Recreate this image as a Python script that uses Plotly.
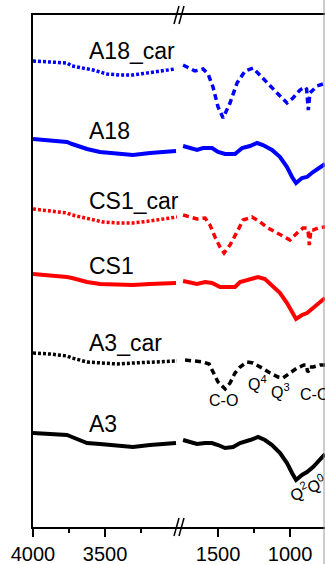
import plotly.graph_objects as go

# Wavenumbers (cm-1) and offset transmittance (a.u.)
a18car_wn = [4000, 3882, 3764, 3729, 3653, 3583, 3486, 3396, 3306, 3208, 3118, 3014,
             1743, 1694, 1660, 1604, 1569, 1535, 1500, 1465, 1417, 1368, 1312, 1257, 1222,
             1160, 1090, 1021, 979, 931, 896, 885, 873, 862, 847, 812, 771, 757]
a18car_t = [46.6, 46.5, 46.4, 46.1, 45.9, 45.7, 45.3, 45.2, 45.2, 45.4, 45.6, 45.8,
            46.2, 45.9, 45.6, 45.8, 45.3, 44.0, 42.0, 40.9, 42.4, 44.4, 45.6, 45.9, 45.4,
            44.4, 43.4, 42.4, 42.9, 43.7, 44.0, 43.8, 41.7, 43.4, 43.6, 44.1, 44.3, 44.3]

a18_wn = [4000, 3882, 3764, 3729, 3625, 3535, 3417, 3306, 3188, 3097, 3007,
          1743, 1694, 1646, 1604, 1542, 1500, 1451, 1382, 1333, 1278, 1229, 1188, 1125,
          1069, 1021, 986, 958, 917, 882, 840, 792, 764, 757]
a18_t = [38.8, 38.6, 38.5, 38.3, 37.8, 37.5, 37.3, 37.2, 37.4, 37.5, 37.6,
         38.1, 37.9, 37.7, 37.9, 37.9, 37.5, 37.3, 37.3, 37.9, 38.1, 38.4, 38.2, 37.7,
         37.0, 36.0, 35.0, 34.4, 34.9, 35.0, 35.5, 36.0, 36.2, 36.3]

cs1car_wn = [4000, 3882, 3764, 3729, 3625, 3514, 3417, 3306, 3188, 3069, 3000,
             1743, 1694, 1646, 1590, 1556, 1521, 1486, 1458, 1417, 1368, 1326, 1264, 1208,
             1153, 1090, 1035, 1000, 951, 910, 882, 874, 866, 855, 840, 806, 764, 757]
cs1car_t = [31.8, 31.6, 31.4, 31.2, 30.9, 30.5, 30.4, 30.4, 30.6, 30.9, 31.0,
            31.2, 31.0, 30.8, 30.9, 30.2, 29.0, 28.0, 27.4, 28.2, 29.5, 30.7, 31.0, 30.5,
            29.9, 29.4, 28.9, 28.7, 29.4, 29.9, 29.9, 29.5, 28.2, 29.7, 29.7, 29.9, 30.0, 30.0]

cs1_wn = [4000, 3882, 3764, 3729, 3625, 3535, 3417, 3306, 3188, 3007,
          1743, 1694, 1646, 1590, 1542, 1486, 1438, 1382, 1347, 1278, 1222, 1174, 1125,
          1069, 1021, 986, 958, 917, 882, 840, 792, 764, 757]
cs1_t = [25.3, 25.2, 25.0, 24.9, 24.5, 24.3, 24.2, 24.2, 24.3, 24.4,
         24.6, 24.4, 24.3, 24.5, 24.4, 24.0, 24.0, 24.0, 24.5, 24.8, 25.0, 24.8, 24.2,
         23.4, 22.4, 21.4, 20.8, 21.2, 21.4, 21.9, 22.5, 22.8, 22.9]

a3car_wn = [4000, 3882, 3764, 3729, 3625, 3514, 3417, 3306, 3188, 3069, 3000,
            1729, 1674, 1604, 1562, 1535, 1500, 1451, 1417, 1382, 1347, 1299, 1257, 1194,
            1139, 1083, 1049, 1000, 951, 903, 885, 878, 872, 865, 840, 792, 757]
a3car_t = [17.4, 17.3, 17.1, 16.9, 16.5, 16.4, 16.3, 16.4, 16.5, 16.6, 16.6,
           16.7, 16.6, 16.5, 16.3, 15.5, 14.5, 13.8, 14.4, 15.4, 16.0, 16.5, 16.4, 15.9,
           15.4, 15.0, 14.9, 15.4, 15.9, 16.2, 16.2, 15.5, 15.6, 16.0, 16.0, 16.2, 16.2]

a3_wn = [4000, 3882, 3764, 3729, 3625, 3535, 3417, 3306, 3188, 3007,
         1743, 1694, 1646, 1590, 1542, 1500, 1451, 1396, 1347, 1278, 1222, 1174, 1125,
         1069, 1021, 986, 958, 917, 882, 840, 792, 764, 757]
a3_t = [9.4, 9.3, 9.2, 9.0, 8.4, 8.3, 8.1, 8.0, 8.2, 8.4,
        8.7, 8.5, 8.3, 8.4, 8.4, 8.2, 7.9, 8.0, 8.4, 8.7, 9.0, 8.7, 8.2,
        7.4, 6.4, 5.4, 4.7, 5.2, 5.5, 6.0, 6.7, 7.2, 7.3]

series = [
    ("A18_car", a18car_wn, a18car_t, "#0000FF", True, 47.6),
    ("A18", a18_wn, a18_t, "#0000FF", False, 39.6),
    ("CS1_car", cs1car_wn, cs1car_t, "#FF0000", True, 32.6),
    ("CS1", cs1_wn, cs1_t, "#FF0000", False, 26.1),
    ("A3_car", a3car_wn, a3car_t, "#000000", True, 18.4),
    ("A3", a3_wn, a3_t, "#000000", False, 10.3),
]

left_range = [4000, 3000]
right_range = [1785, 757]
split = 0.4932

FONT = "Liberation Sans, Arial, sans-serif"

fig = go.Figure()
annotations = []
for name, wn, t, color, dotted, label_y in series:
    lx = [w for w in wn if w > 2000]
    ly = [v for w, v in zip(wn, t) if w > 2000]
    rx = [w for w in wn if w <= 2000]
    ry = [v for w, v in zip(wn, t) if w <= 2000]
    dash_l = "3px,2px" if dotted else "solid"
    dash_r = "6px,4px" if dotted else "solid"
    width = 3.5 if dotted else 4
    fig.add_trace(go.Scatter(x=lx, y=ly, mode="lines", xaxis="x", yaxis="y",
                             line=dict(color=color, width=width, dash=dash_l), showlegend=False))
    fig.add_trace(go.Scatter(x=rx, y=ry, mode="lines", xaxis="x2", yaxis="y",
                             line=dict(color=color, width=width, dash=dash_r), showlegend=False))
    annotations.append(dict(text=name, x=3625, y=label_y, xref="x", yref="y",
                            xanchor="left", yanchor="middle", showarrow=False,
                            font=dict(family=FONT, size=23, color="black")))

peak_labels = [
    ("C-O", 1465, 12.7, 0),
    ("Q<sup>4</sup>", 1229, 14.4, 0),
    ("Q<sup>3</sup>", 1063, 13.6, 0),
    ("Q<sup>2</sup>Q<sup>0</sup>", 882, 3.9, -25),
]
for txt, x, y, ang in peak_labels:
    annotations.append(dict(text=txt, x=x, y=y, xref="x2", yref="y", showarrow=False,
                            textangle=ang, font=dict(family=FONT, size=16, color="black")))
annotations.append(dict(text="C-O", x=944, y=13.3, xref="x2", yref="y", xanchor="left",
                        showarrow=False, font=dict(family=FONT, size=16, color="black")))

axis_common = dict(showline=True, linecolor="black", linewidth=1.5, mirror=True,
                   ticks="outside", ticklen=8, tickwidth=1.5, tickcolor="black",
                   showgrid=False, zeroline=False,
                   tickfont=dict(family=FONT, size=20, color="black"))

fig.update_layout(
    width=325, height=564,
    margin=dict(l=33, r=0, t=15, b=37),
    paper_bgcolor="white", plot_bgcolor="white",
    xaxis=dict(domain=[0, split], range=left_range, tickvals=[4000, 3500],
               minor=dict(tickvals=[3750, 3250], ticks="outside", ticklen=4,
                          tickwidth=1.5, tickcolor="black", showgrid=False),
               **axis_common),
    xaxis2=dict(domain=[split, 1], range=right_range, tickvals=[1500, 1000],
                minor=dict(tickvals=[1250, 750], ticks="outside", ticklen=4,
                           tickwidth=1.5, tickcolor="black", showgrid=False),
                anchor="y", **axis_common),
    yaxis=dict(range=[0, 51.2], showline=True, linecolor="black", linewidth=1.5,
               showticklabels=False, ticks="", showgrid=False, zeroline=False),
    annotations=annotations,
)

# axis-break marks and right border
def px_to_paper(px, py):
    return (px - 33) / 292, (527 - py) / 512

shapes = []
for base in (15, 527):
    for dx in (0, 5):
        x0, y0 = px_to_paper(174 + dx, base + 9)
        x1, y1 = px_to_paper(179 + dx, base - 9)
        shapes.append(dict(type="line", xref="paper", yref="paper", x0=x0, y0=y0,
                           x1=x1, y1=y1, line=dict(color="black", width=1.5)))
shapes.append(dict(type="line", xref="paper", yref="paper", x0=(324 - 33) / 292, x1=(324 - 33) / 292,
                   y0=-0.1, y1=1.1, line=dict(color="#999999", width=1)))
fig.update_layout(shapes=shapes)

fig.write_html("out.html", config={"displayModeBar": False},
               post_script="document.body.style.margin='0px';document.body.style.overflow='hidden';")
